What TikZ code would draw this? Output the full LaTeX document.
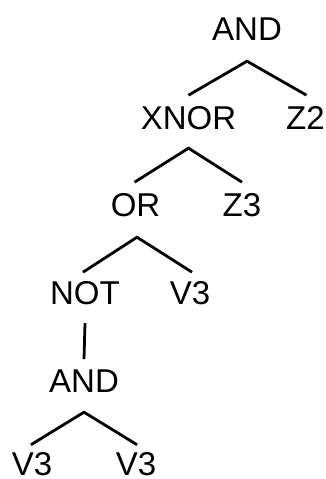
\documentclass[tikz,border=0pt]{standalone}
\usepackage{fontspec}
\setmainfont{Liberation Sans}
\begin{document}
\begin{tikzpicture}[x=1pt,y=1pt,
  term/.style={anchor=base,inner sep=0pt,text height=23.6pt,text depth=0pt,
    font=\fontsize{33}{33}\selectfont},
  branch/.style={line width=2.8pt,line cap=butt}]
\useasboundingbox (0,0) rectangle (325,-479);
% operator and leaf labels
\node[term] (and1) at (247,-40) {AND};
\node[term] (xnor) at (188.5,-129) {XNOR};
\node[term] (z2)   at (305.5,-129) {Z2};
\node[term] (or)   at (135.5,-216) {OR};
\node[term] (z3)   at (242,-216) {Z3};
\node[term] (not)  at (85,-304) {NOT};
\node[term] (v3a)  at (190,-304) {V3};
\node[term] (and2) at (84,-392) {AND};
\node[term] (v3b)  at (32,-475.5) {V3};
\node[term] (v3c)  at (136,-475.5) {V3};
% branches
\draw[branch] ([yshift=10pt]xnor.north) -- ([yshift=-21pt]and1.south) -- ([xshift=1pt,yshift=10pt]z2.north);
\draw[branch] ([xshift=-1pt,yshift=10pt]or.north) -- ([yshift=-19pt]xnor.south) -- ([yshift=10pt]z3.north);
\draw[branch] ([xshift=-2pt,yshift=8pt]not.north) -- ([xshift=1.5pt,yshift=-21pt]or.south) -- ([xshift=2pt,yshift=8pt]v3a.north);
\draw[branch] ([yshift=-19pt]not.south) -- ([yshift=9pt]and2.north);
\draw[branch] ([xshift=-1pt,yshift=7pt]v3b.north) -- ([yshift=-20pt]and2.south) -- ([xshift=1pt,yshift=7pt]v3c.north);
\end{tikzpicture}
\end{document}
